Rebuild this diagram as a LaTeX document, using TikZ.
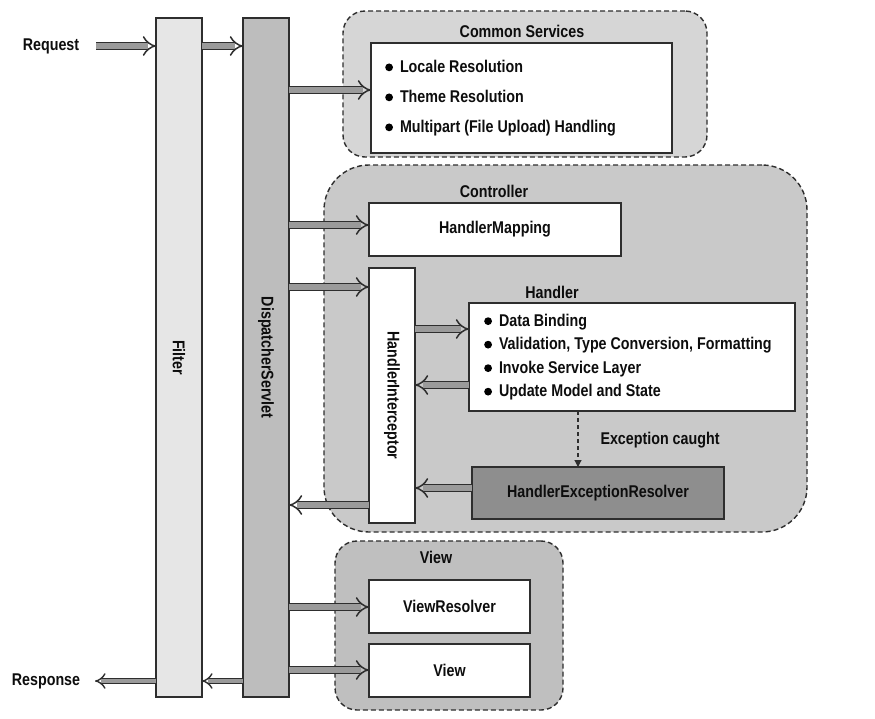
\documentclass[tikz,border=0pt]{standalone}
\usepackage{fontspec}
\setmainfont{Liberation Sans}[FakeStretch=0.84]
\usetikzlibrary{arrows.meta,calc}
\definecolor{filtercol}{HTML}{E6E6E6}
\definecolor{dscol}{HTML}{BDBDBD}
\definecolor{cscol}{HTML}{D6D6D6}
\definecolor{ctrlcol}{HTML}{C9C9C9}
\definecolor{viewcol}{HTML}{BFBFBF}
\definecolor{hercol}{HTML}{8E8E8E}
\definecolor{edgecol}{HTML}{2E2E2E}
\definecolor{shaftcol}{HTML}{9A9A9A}
\newcommand\blt{\tikz[baseline=-5pt]\fill[black] (0,0) circle[radius=3.9pt];\hspace{7pt}}
\begin{document}
\begin{tikzpicture}[x=1pt,y=-1pt,
  every node/.style={font=\fontsize{17}{19}\selectfont\bfseries, text=black!95},
  box/.style={draw=edgecol, line width=1.4pt, fill=white, inner sep=0pt, outer sep=0pt, anchor=north west},
  group/.style={draw=edgecol, line width=1.4pt, dash pattern=on 5pt off 3pt, inner sep=0pt, outer sep=0pt, anchor=north west},
  flow/.style={double distance=5.4pt, line width=1.5pt, draw=edgecol, double=shaftcol, -{Implies}},
  thinflow/.style={double distance=4pt, line width=1.4pt, draw=edgecol, double=shaftcol, -{Implies}},
  dflow/.style={draw=edgecol, line width=1.1pt, dash pattern=on 4pt off 3pt, -{Triangle[length=7pt,width=7pt]}}]
\useasboundingbox (0,0) rectangle (875,718);

% groups
\node[group, fill=cscol, rounded corners=22pt, minimum width=364pt, minimum height=146pt] (csout) at (343,11) {};
\node[group, fill=ctrlcol, rounded corners=45pt, minimum width=483pt, minimum height=367pt] (ctrlout) at (324,165) {};
\node[group, fill=viewcol, rounded corners=22pt, minimum width=228pt, minimum height=169pt] (viewout) at (335,541) {};

% group titles
\node (cstitle) at (522,31) {Common Services};
\node (ctrltitle) at (494,191) {Controller};
\node (handlertitle) at (552,292) {Handler};
\node (viewtitle) at (436,557) {View};

% vertical bars
\node[box, fill=filtercol, anchor=center, rotate=-90, minimum width=679pt, minimum height=46pt] (filter) at (179,357.5) {Filter};
\node[box, fill=dscol, anchor=center, rotate=-90, minimum width=679pt, minimum height=46pt] (ds) at (266,357.5) {DispatcherServlet};

% inner boxes
\node[box, minimum width=301pt, minimum height=110pt] (csin) at (371,43) {};
\node[anchor=west, align=left, inner sep=0pt, font=\fontsize{17}{30}\selectfont\bfseries] (cslist) at (385,98)
  {\blt Locale Resolution\\ \blt Theme Resolution\\ \blt Multipart (File Upload) Handling};

\node[box, minimum width=252pt, minimum height=53pt] (hm) at (369,203) {};
\node (hmlbl) at (hm.center) {HandlerMapping};

\node[box, anchor=center, rotate=-90, minimum width=255pt, minimum height=46pt] (hi) at (392,395.5) {HandlerInterceptor};

\node[box, minimum width=326pt, minimum height=108pt] (handler) at (469,303) {};
\node[anchor=west, align=left, inner sep=0pt, font=\fontsize{17}{23.5}\selectfont\bfseries] (hlist) at (484,357)
  {\blt Data Binding\\ \blt Validation, Type Conversion, Formatting\\ \blt Invoke Service Layer\\ \blt Update Model and State};

\node[box, fill=hercol, minimum width=252pt, minimum height=52pt] (her) at (472,467) {};
\node (herlbl) at (her.center) {HandlerExceptionResolver};

\node[box, minimum width=161pt, minimum height=53pt] (vr) at (369,580) {};
\node (vrlbl) at (vr.center) {ViewResolver};
\node[box, minimum width=161pt, minimum height=53pt] (view) at (369,644) {};
\node (viewlbl) at (view.center) {View};

% labels outside
\node (req) at (51,46) {Request};
\node (resp) at (46,681) {Response};
\coordinate (reqstart) at (96,46);
\coordinate (respend) at (95,681);
\node (exc) at (660,440) {Exception caught};

% flows (rotated bars: .south = left side, .north = right side)
\draw[flow] (reqstart) -- (reqstart -| filter.south);
\draw[flow] (filter.north |- reqstart) -- (ds.south |- reqstart);
\draw[flow] (ds.north |- 0,90) -- (csin.west |- 0,90);
\draw[flow] (ds.north |- 0,225) -- (hm.west |- 0,225);
\draw[flow] (ds.north |- 0,287) -- (hi.south |- 0,287);
\draw[flow] (hi.north |- 0,329) -- (handler.west |- 0,329);
\draw[flow] (handler.west |- 0,385) -- (hi.north |- 0,385);
\draw[flow] (her.west |- 0,488) -- (hi.north |- 0,488);
\draw[flow] (hi.south |- 0,505) -- (ds.north |- 0,505);
\draw[flow] (ds.north |- 0,607) -- (vr.west |- 0,607);
\draw[flow] (ds.north |- 0,670) -- (view.west |- 0,670);
\draw[thinflow] (ds.south |- respend) -- (filter.north |- respend);
\draw[thinflow] (filter.south |- respend) -- (respend);
\draw[dflow] (handler.south -| 578,0) -- (her.north -| 578,0);
\end{tikzpicture}
\end{document}
